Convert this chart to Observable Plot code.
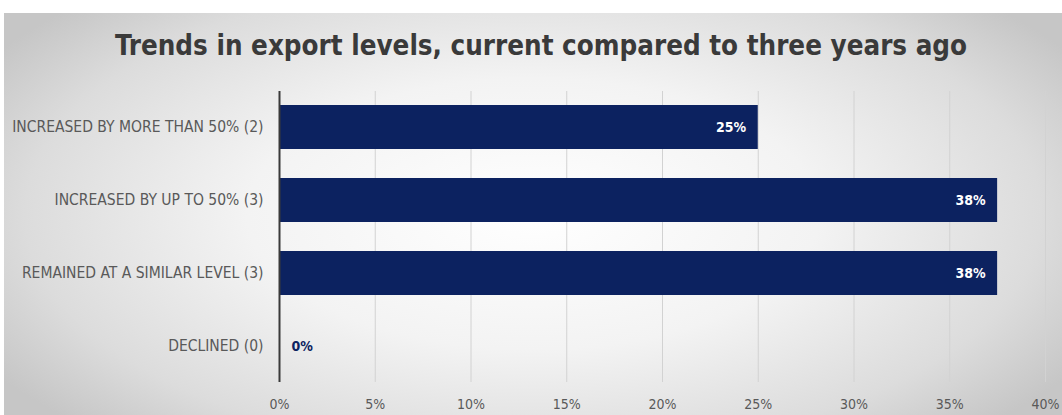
<!DOCTYPE html>
<html>
<head>
<meta charset="utf-8">
<script src="https://cdn.jsdelivr.net/npm/d3@7"></script>
<script src="https://cdn.jsdelivr.net/npm/@observablehq/plot@0.6"></script>
<style>
  html, body { margin: 0; padding: 0; background: #ffffff; }
  #wrap { position: relative; width: 1062px; height: 415px; overflow: hidden; background: #ffffff; }
  #panel { position: absolute; left: 4px; top: 13px; width: 1058px; height: 402px;
    background: radial-gradient(ellipse 60% 75% at 50% 50%, #ffffff 0%, #f3f3f3 45%, #dcdcdc 80%, #c6c6c6 100%); }
  #title { position: absolute; left: 0; top: 11px; width: 1062px; height: 68px; line-height: 68px;
    text-align: center; font-family: "DejaVu Sans Condensed", "Liberation Sans Narrow", "Roboto", sans-serif;
    font-weight: bold; font-size: 27.5px; color: #3a3a3a; padding-left: 20px; box-sizing: border-box; }
  #chart { position: absolute; left: 0; top: 80px; }
</style>
</head>
<body>
<div id="wrap">
  <div id="panel"></div>
  <div id="title">Trends in export levels, current compared to three years ago</div>
  <div id="chart"></div>
</div>
<script>
const categories = [
  "INCREASED BY MORE THAN 50% (2)",
  "INCREASED BY UP TO 50% (3)",
  "REMAINED AT A SIMILAR LEVEL (3)",
  "DECLINED (0)"
];
const shares = [25, 37.5, 37.5, 0];
const valueLabels = ["25%", "38%", "38%", "0%"];
const xTicks = [0, 5, 10, 15, 20, 25, 30, 35, 40];
const xTickLabels = ["0%", "5%", "10%", "15%", "20%", "25%", "30%", "35%", "40%"];

const data = categories.map((c, i) => ({cat: c, share: shares[i], label: valueLabels[i]}));
const navy = "#0c2260";
const font = "'DejaVu Sans Condensed', 'Liberation Sans Narrow', Roboto, sans-serif";

const chart = Plot.plot({
  width: 1062,
  height: 335,
  marginTop: 11,
  marginBottom: 33,
  marginLeft: 279,
  marginRight: 17,
  style: {background: "transparent", fontFamily: font, overflow: "visible"},
  x: {domain: [0, 40], ticks: xTicks, tickFormat: (d) => xTickLabels[xTicks.indexOf(d)]},
  y: {domain: categories, paddingInner: 0.4, paddingOuter: 0.19},
  marks: [
    Plot.gridX(xTicks, {stroke: "#d2d2d2", strokeOpacity: 1, strokeWidth: 1}),
    Plot.barX(data, {x: "share", y: "cat", fill: navy}),
    Plot.text(data.filter(d => d.share > 0), {x: "share", y: "cat", text: "label", textAnchor: "end", dx: -12,
      fill: "white", fontWeight: "bold", fontSize: 14}),
    Plot.text(data.filter(d => d.share === 0), {x: "share", y: "cat", text: "label", textAnchor: "start", dx: 12,
      fill: navy, fontWeight: "bold", fontSize: 14}),
    Plot.ruleX([0], {stroke: "#3a3a3a", strokeWidth: 2}),
    Plot.axisX({ticks: xTicks, tickFormat: (d) => xTickLabels[xTicks.indexOf(d)], tickSize: 0,
      color: "#595959", fontSize: 14, tickPadding: 17, label: null}),
    Plot.axisY({tickSize: 0, tickPadding: 16, color: "#595959", fontSize: 15.5, label: null})
  ]
});
document.getElementById("chart").appendChild(chart);
</script>
</body>
</html>
